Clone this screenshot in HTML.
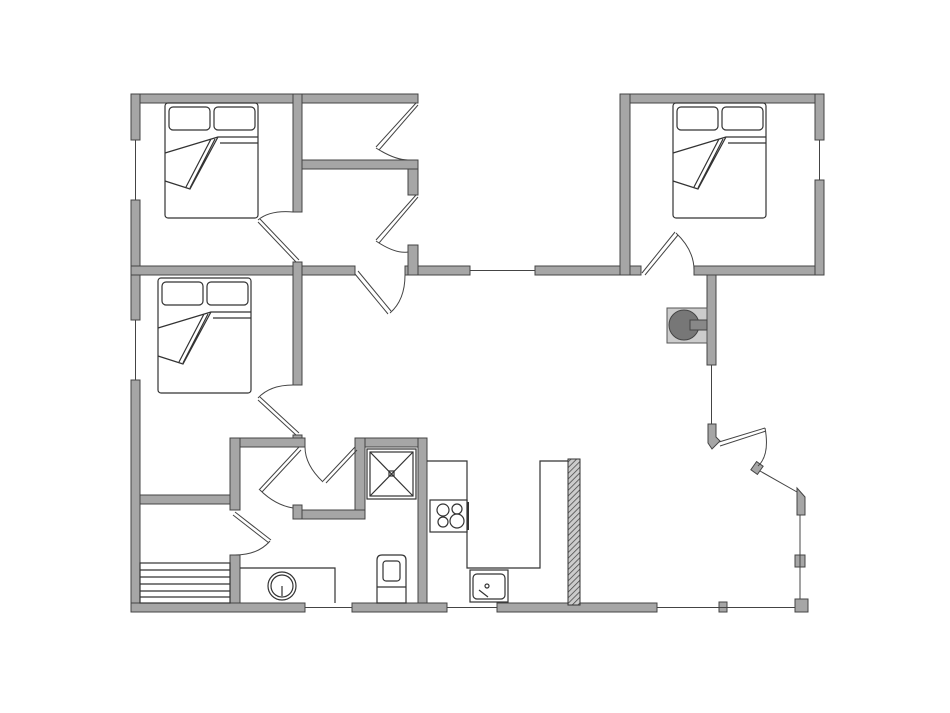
<!DOCTYPE html>
<html><head><style>html,body{margin:0;padding:0;background:#fff}svg{display:block}</style></head>
<body>
<svg width="950" height="713" viewBox="0 0 950 713" xmlns="http://www.w3.org/2000/svg">
<defs>
<g id="bed">
<rect x="0" y="0" width="93" height="115" rx="3" fill="#fff" stroke="#333" stroke-width="1.2"/>
<rect x="4" y="4" width="41" height="23" rx="4" fill="none" stroke="#333" stroke-width="1.2"/>
<rect x="49" y="4" width="41" height="23" rx="4" fill="none" stroke="#333" stroke-width="1.2"/>
<path d="M93 34 L53 34 L25 86 L0 78 M0 50 L53 34 M93 40 L55 40 M46 36 L21 84 M50 36 L25 85" fill="none" stroke="#333" stroke-width="1.2"/>
</g>
<pattern id="hatch" width="4" height="4" patternUnits="userSpaceOnUse" patternTransform="rotate(45)"><rect width="4" height="4" fill="#ccc"/><line x1="0" y1="0" x2="0" y2="4" stroke="#444" stroke-width="1.5"/></pattern>
</defs>
<g fill="#a6a6a6" stroke="#444" stroke-width="1">
<!-- left bedroom block -->
<rect x="131" y="94" width="287" height="9"/>
<rect x="131" y="94" width="9" height="46"/>
<rect x="131" y="200" width="9" height="120"/>
<rect x="131" y="380" width="9" height="232"/>
<rect x="131" y="266" width="224" height="9"/>
<rect x="405" y="266" width="65" height="9"/>
<rect x="408" y="160" width="10" height="35"/>
<rect x="408" y="245" width="10" height="30"/>
<rect x="302" y="160" width="116" height="9"/>
<rect x="293" y="94" width="9" height="118"/>
<rect x="293" y="262" width="9" height="123"/>
<rect x="293" y="435" width="9" height="10"/>
<!-- right bedroom -->
<rect x="535" y="266" width="106" height="9"/>
<rect x="694" y="266" width="130" height="9"/>
<rect x="620" y="94" width="204" height="9"/>
<rect x="620" y="94" width="10" height="181"/>
<rect x="815" y="94" width="9" height="46"/>
<rect x="815" y="180" width="9" height="95"/>
<rect x="707" y="275" width="9" height="90"/>
<!-- bathroom -->
<rect x="230" y="438" width="75" height="9"/>
<rect x="230" y="438" width="10" height="72"/>
<rect x="230" y="555" width="10" height="57"/>
<rect x="140" y="495" width="90" height="9"/>
<rect x="355" y="438" width="72" height="9"/>
<rect x="355" y="438" width="10" height="81"/>
<rect x="293" y="510" width="72" height="9"/>
<rect x="293" y="505" width="9" height="14"/>
<rect x="418" y="438" width="9" height="174"/>
<!-- bottom -->
<rect x="131" y="603" width="174" height="9"/>
<rect x="352" y="603" width="95" height="9"/>
<rect x="497" y="603" width="160" height="9"/>
<rect x="795" y="599" width="13" height="13"/>
<path d="M708 424 L716 424 L716 437 L720 441 L712 449 L708 443 Z"/>
<path d="M797 488 L805 497 L805 515 L797 515 Z"/>
<rect x="795" y="555" width="10" height="12"/>
<rect x="719" y="602" width="8" height="10"/>
<rect x="753" y="463" width="8" height="10" transform="rotate(35 757 468)"/>
</g>
<!-- windows -->
<g stroke="#444" stroke-width="1" fill="none">
<line x1="135.5" y1="140" x2="135.5" y2="200"/>
<line x1="135.5" y1="320" x2="135.5" y2="380"/>
<line x1="470" y1="270.5" x2="535" y2="270.5"/>
<line x1="819.5" y1="140" x2="819.5" y2="180"/>
<line x1="711.5" y1="365" x2="711.5" y2="424"/>
<line x1="305" y1="607.5" x2="352" y2="607.5"/>
<line x1="447" y1="607.5" x2="497" y2="607.5"/>
<line x1="657" y1="607.5" x2="795" y2="607.5"/>
<line x1="800" y1="515" x2="800" y2="599"/>
<line x1="760" y1="471" x2="797" y2="492"/>
<!-- doors -->
<path d="M416 103 L376 147 M379 150 L418 105"/>
<path d="M376 148 Q395 160 408 160"/>
<path d="M416 195 L376 240 M379 243 L418 197"/>
<path d="M376 241 Q395 254 408 252"/>
<path d="M296 262 L258 222 M260 219 L299 260"/>
<path d="M258 220 Q270 210 293 212"/>
<path d="M355 274 L388 314 M391 311 L358 271"/>
<path d="M405 275 Q405 300 390 313"/>
<path d="M296 435 L258 400 M260 397 L299 433"/>
<path d="M258 398 Q270 385 293 385"/>
<path d="M299 447 L259 490 M262 492 L301 450"/>
<path d="M260 490 Q275 505 293 508"/>
<path d="M355 447 L323 481 M326 483 L357 450"/>
<path d="M323 482 Q305 465 305 447"/>
<path d="M235 512 L271 540 M269 543 L233 515"/>
<path d="M270 541 Q258 555 235 555"/>
<path d="M642 273 L675 232 M678 235 L645 275"/>
<path d="M676 233 Q694 250 694 270"/>
<path d="M719 442 L765 428 M766 431 L720 446"/>
<path d="M765 428 Q770 455 758 466"/>
</g>
<!-- stairs -->
<g stroke="#333" stroke-width="1.2" fill="none">
<rect x="140" y="563" width="90" height="40"/>
<line x1="140" y1="570" x2="230" y2="570"/><line x1="140" y1="577" x2="230" y2="577"/>
<line x1="140" y1="584" x2="230" y2="584"/><line x1="140" y1="591" x2="230" y2="591"/>
<line x1="140" y1="597" x2="230" y2="597"/>
<!-- vanity -->
<path d="M240 568 L335 568 L335 603"/>
<circle cx="282" cy="586" r="14"/><circle cx="282" cy="586" r="11"/>
<line x1="282" y1="586" x2="282" y2="596"/>
<!-- shower -->
<rect x="367" y="449" width="49" height="50"/>
<rect x="370" y="452" width="43" height="44"/>
<path d="M370 452 L413 496 M413 452 L370 496"/>
<rect x="389" y="471" width="5" height="5"/>
<!-- toilet -->
<path d="M377 603 L377 560 Q377 555 382 555 L401 555 Q406 555 406 560 L406 603 Z"/>
<rect x="383" y="561" width="17" height="20" rx="3"/>
<line x1="377" y1="587" x2="406" y2="587"/>
<!-- kitchen -->
<path d="M427 461 L467 461 L467 568 L540 568 L540 461 L568 461"/>
<rect x="430" y="500" width="37" height="32" fill="#fff"/>
<circle cx="443" cy="510" r="6"/><circle cx="457" cy="509" r="5"/>
<circle cx="443" cy="522" r="5"/><circle cx="457" cy="521" r="7"/>
<line x1="468" y1="502" x2="468" y2="530" stroke-width="2"/>
<rect x="470" y="570" width="38" height="32" fill="#fff"/>
<rect x="473" y="574" width="32" height="25" rx="4"/>
<circle cx="487" cy="586" r="2"/>
<line x1="479" y1="590" x2="488" y2="597"/>
</g>
<rect x="568" y="459" width="12" height="146" fill="url(#hatch)" stroke="#333"/>
<!-- fireplace -->
<rect x="667" y="308" width="40" height="35" fill="#ccc" stroke="#555"/>
<circle cx="684" cy="325" r="15" fill="#777" stroke="#444"/>
<rect x="690" y="320" width="17" height="10" fill="#888" stroke="#444"/>
<use href="#bed" x="165" y="103"/>
<use href="#bed" x="158" y="278"/>
<use href="#bed" x="673" y="103"/>
</svg>
</body></html>
